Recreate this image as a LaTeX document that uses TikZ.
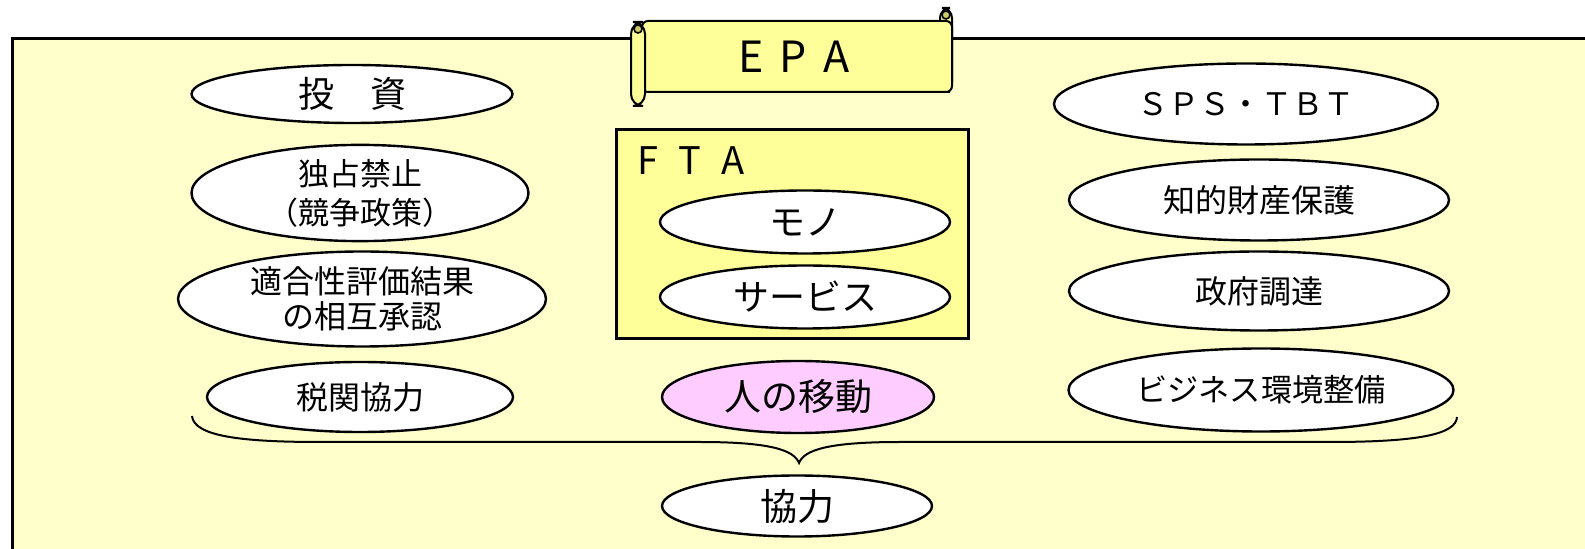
\documentclass[tikz,border=0pt]{standalone}
\usepackage{fontspec}
\setmainfont{Noto Sans CJK JP}
\usetikzlibrary{shapes.geometric}
\definecolor{bg}{HTML}{FFFFCC}
\definecolor{scroll}{HTML}{FFFF99}
\definecolor{curl}{HTML}{CCCC66}
\definecolor{pinkfill}{HTML}{FFCCFF}
\tikzset{
  oval/.style={ellipse, draw=black, line width=1.2pt, fill=white, inner sep=0pt, align=center},
  fs/.style 2 args={font=\fontsize{#1}{#2}\selectfont},
  scrollpart/.style={draw=black, line width=1pt, fill=scroll},
}
\begin{document}
\begin{tikzpicture}[x=0.5pt,y=-0.5pt]
\useasboundingbox (0,0) rectangle (1585,549);
\clip (0,0) rectangle (1585,549);
% outer EPA frame
\draw[line width=1.5pt, fill=bg] (12,39) rectangle (1620,600);

% scroll
\draw[scrollpart, rounded corners=5pt] (940,8) rectangle (952,92);
\draw[scrollpart, rounded corners=3pt] (642,21) rectangle (952,92);
\fill[curl, draw=black, line width=0.8pt] (946,15) circle (4);
\draw[scrollpart, rounded corners=6pt] (631,22) rectangle (645,106);
\draw[fill=curl, draw=black, line width=0.8pt] (638,29) circle (4);
\node[fs={21.5pt}{24pt}] (epa) at (794,57) {E\hspace{8pt}P\hspace{8pt}A};

% left column
\node[oval, fs={18pt}{20pt}, minimum width=160.5pt, minimum height=29pt] (invest) at (352,94) {投　資};
\node[oval, fs={15.5pt}{19.5pt}, minimum width=168.5pt, minimum height=47pt] (antitrust) at (360,193) {独占禁止\\（競争政策）};
\node[oval, fs={16pt}{17.5pt}, minimum width=184pt, minimum height=47.5pt] (mra) at (362,299) {適合性評価結果\\の相互承認};
\node[oval, fs={16pt}{18pt}, minimum width=153pt, minimum height=35pt] (customs) at (360,397) {税関協力};

% FTA box
\node[draw=black, line width=1.5pt, fill=scroll, minimum width=176pt, minimum height=104.5pt, inner sep=0pt] (fta) at (792,234.5) {};
\node[fs={19pt}{22pt}, anchor=west, inner sep=0pt] (ftalabel) at (637,161) {F\hspace{10pt}T\hspace{10pt}A};
\node[oval, fs={18pt}{20pt}, minimum width=145pt, minimum height=31.5pt] (mono) at (805,222) {モノ};
\node[oval, fs={18pt}{20pt}, minimum width=145pt, minimum height=31.5pt] (service) at (805,297) {サービス};

% people, cooperation
\node[oval, fill=pinkfill, fs={18.5pt}{20pt}, minimum width=136pt, minimum height=36pt] (people) at (798,397) {人の移動};
\node[oval, fs={18.5pt}{20pt}, minimum width=135pt, minimum height=30.5pt] (coop) at (797,506) {協力};

% right column
\node[oval, fs={15.5pt}{18pt}, minimum width=192pt, minimum height=40.5pt] (sps) at (1246,104) {ＳＰＳ・ＴＢＴ};
\node[oval, fs={16pt}{18pt}, minimum width=190pt, minimum height=40.5pt] (ip) at (1259,200) {知的財産保護};
\node[oval, fs={16pt}{18pt}, minimum width=190pt, minimum height=39.5pt] (gov) at (1259,291) {政府調達};
\node[oval, fs={15.6pt}{18pt}, minimum width=192.5pt, minimum height=41.5pt] (biz) at (1261,390) {ビジネス環境整備};

% brace
\draw[line width=1pt] (192,416) .. controls (194,436) and (240,442) .. (320,442)
  -- (700,442) .. controls (770,442) and (794,450) .. (799,463)
  .. controls (804,450) and (828,442) .. (900,442)
  -- (1330,442) .. controls (1420,442) and (1456,434) .. (1457,417);
\end{tikzpicture}
\end{document}
